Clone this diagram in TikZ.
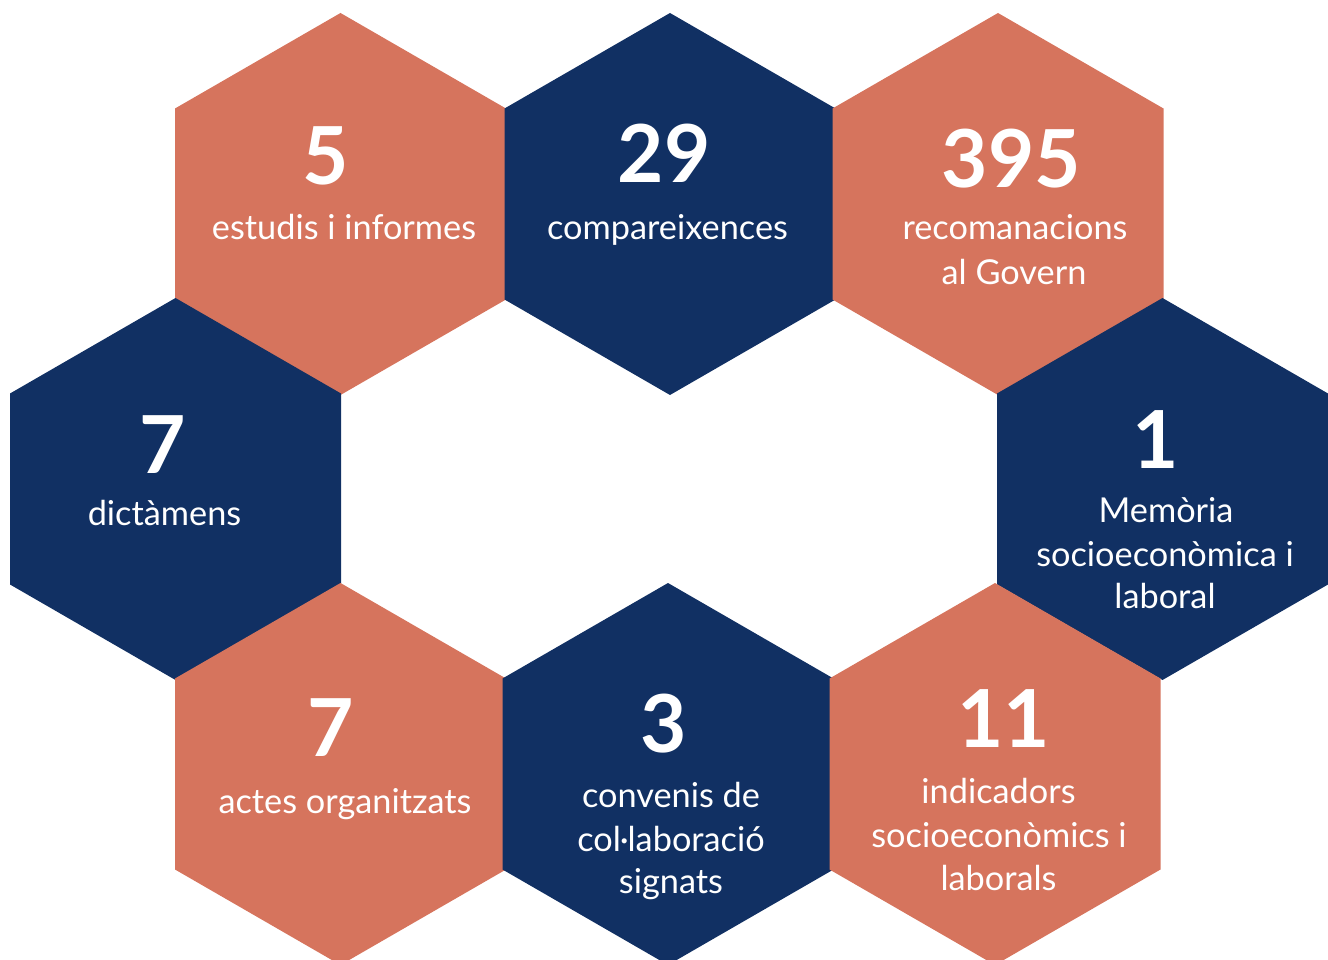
\documentclass[tikz,border=0pt]{standalone}
\usepackage{fontspec}
\setmainfont{Lato}
\definecolor{hexorange}{RGB}{214,116,93}
\definecolor{hexnavy}{RGB}{17,48,99}
\newcommand{\hexcell}[4]{% name, cx, cy, colour
  \fill[#4] (#2,#3-191) -- (#2+165.5,#3-95.5) -- (#2+165.5,#3+95.5) -- (#2,#3+191)
    -- (#2-165.5,#3+95.5) -- (#2-165.5,#3-95.5) -- cycle;
  \coordinate (#1) at (#2,#3);
}
\tikzset{
  num/.style={text=white,anchor=base,inner sep=0pt,font=\fontsize{80}{80}\selectfont\bfseries},
  lbl/.style={text=white,anchor=base,inner sep=0pt,font=\fontsize{34.3}{43}\selectfont},
}
\begin{document}
\begin{tikzpicture}[x=1pt,y=-1pt]
\useasboundingbox (0,0) rectangle (1328,960);
\clip (0,0) rectangle (1328,960);
\hexcell{h1}{340.5}{204}{hexorange}
\hexcell{h2}{670}{204}{hexnavy}
\hexcell{h3}{998}{204}{hexorange}
\hexcell{h4}{175.5}{489}{hexnavy}
\hexcell{h5}{1162.5}{489}{hexnavy}
\hexcell{h6}{340.5}{774}{hexorange}
\hexcell{h7}{668}{774}{hexnavy}
\hexcell{h8}{995}{774}{hexorange}
% texts
\node[num] (n1) at (326,185) {5};
\node[lbl] (t1) at (344,240) {estudis i informes};
\node[num] (n2) at (664,183) {29};
\node[lbl] (t2) at (667.5,240) {compareixences};
\node[num] (n3) at (1011.5,188) {395};
\node[lbl] (t3a) at (1015,240) {recomanacions};
\node[lbl] (t3b) at (1014,284) {al Govern};
\node[num] (n4) at (163,473) {7};
\node[lbl] (t4) at (164.5,525) {dictàmens};
\node[num] (n5) at (1156,468) {1};
\node[lbl] (t5a) at (1166,522) {Memòria};
\node[lbl] (t5b) at (1165,566) {socioeconòmica i};
\node[lbl] (t5c) at (1165,608) {laboral};
\node[num] (n6) at (331,756) {7};
\node[lbl] (t6) at (345,813) {actes organitzats};
\node[num] (n7) at (664,752) {3};
\node[lbl] (t7a) at (671,807) {convenis de};
\node[lbl] (t7b) at (671,851) {col·laboració};
\node[lbl] (t7c) at (671,893) {signats};
\node[num] (n8) at (1003.5,747) {11};
\node[lbl] (t8a) at (998.5,803) {indicadors};
\node[lbl] (t8b) at (999,847) {socioeconòmics i};
\node[lbl] (t8c) at (998.5,890) {laborals};
\end{tikzpicture}
\end{document}
